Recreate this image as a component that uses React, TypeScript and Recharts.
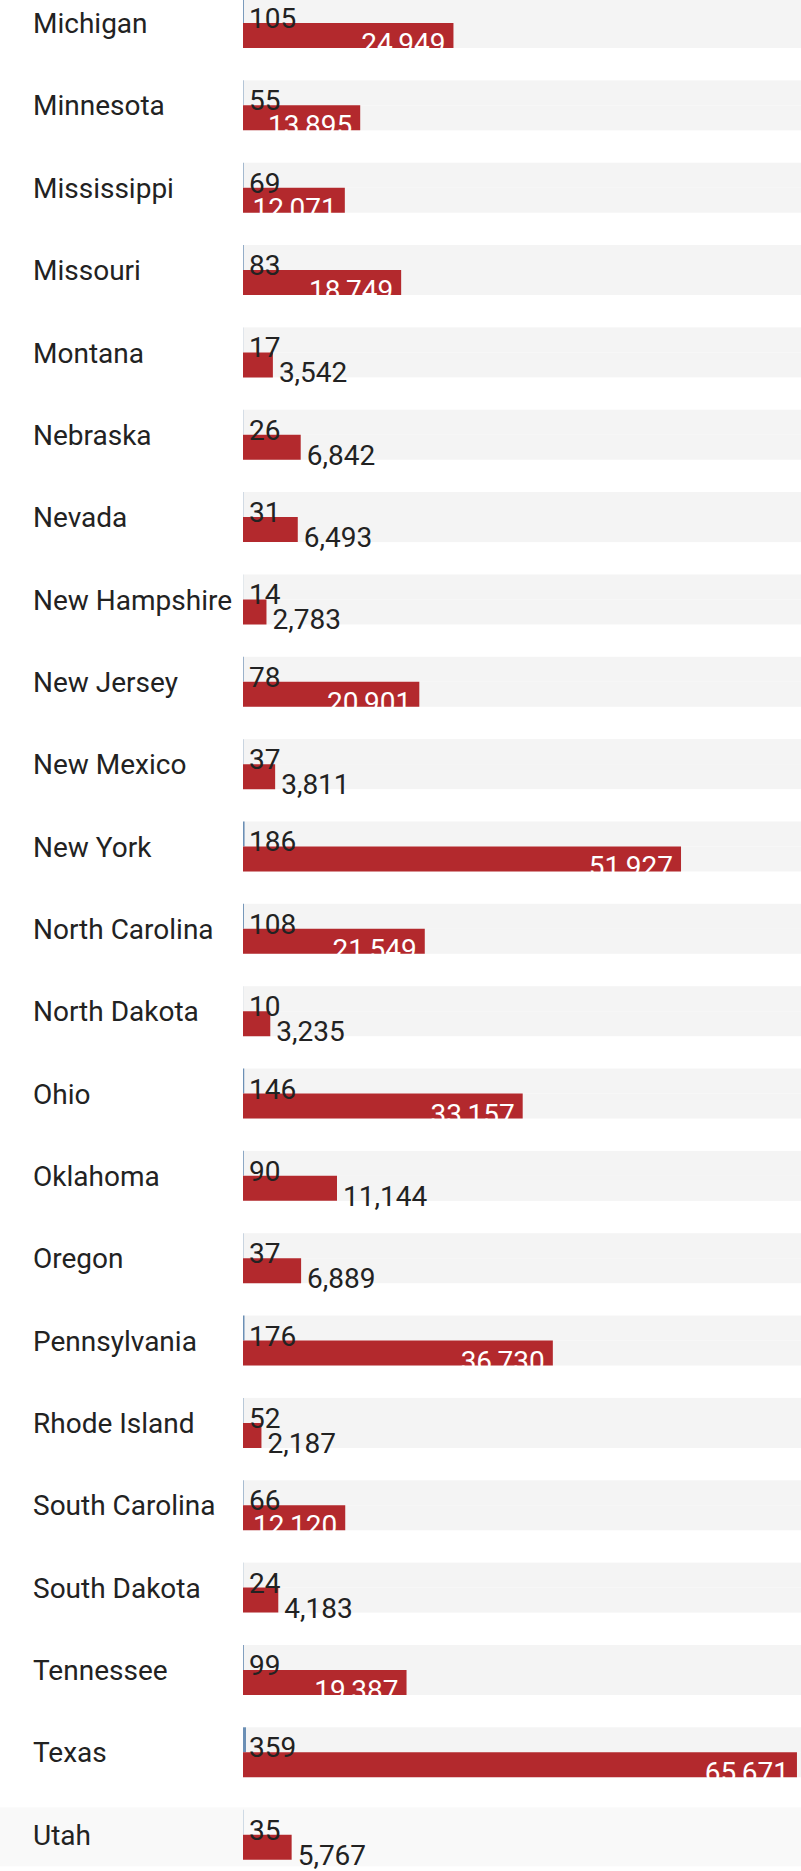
import React from 'react';
import { BarChart, Bar, XAxis, YAxis, LabelList, Tooltip } from 'recharts';

const states = [
  'Michigan', 'Minnesota', 'Mississippi', 'Missouri', 'Montana', 'Nebraska', 'Nevada',
  'New Hampshire', 'New Jersey', 'New Mexico', 'New York', 'North Carolina', 'North Dakota',
  'Ohio', 'Oklahoma', 'Oregon', 'Pennsylvania', 'Rhode Island', 'South Carolina',
  'South Dakota', 'Tennessee', 'Texas', 'Utah',
];

const hospitals = [105, 55, 69, 83, 17, 26, 31, 14, 78, 37, 186, 108, 10, 146, 90, 37, 176, 52, 66, 24, 99, 359, 35];

const beds = [
  24949, 13895, 12071, 18749, 3542, 6842, 6493, 2783, 20901, 3811, 51927, 21549, 3235,
  33157, 11144, 6889, 36730, 2187, 12120, 4183, 19387, 65671, 5767,
];

const hoveredState = 'Utah';

const FONT = 'Roboto, "Noto Sans", sans-serif';
const FONT_SIZE = 28;
const TEXT = '#222222';
const RED = '#b3292d';
const BLUE = '#6b8fb5';

const data = states.map((state, i) => ({ state, hospitals: hospitals[i], beds: beds[i] }));
const hoveredIndex = states.indexOf(hoveredState);

const fmt = (v: number) => v.toLocaleString('en-US');

// rough Roboto text width, enough to decide whether the label fits inside the bar
const textWidth = (s: string) =>
  s.split('').reduce((w, ch) => w + (ch === ',' ? 0.197 : 0.562) * FONT_SIZE, 0);

const box = (props: any) => {
  const vb = props.viewBox ?? props;
  return { x: Number(vb.x), y: Number(vb.y), width: Number(vb.width), height: Number(vb.height) };
};

const StateTick = (props: any) => (
  <text x={33} y={props.y} dy="0.355em" fontSize={FONT_SIZE} fontFamily={FONT} fill={TEXT}>
    {props.payload.value}
  </text>
);

const HospitalLabel = (props: any) => {
  const { x, y } = box(props);
  return (
    <text x={x + 6} y={y + 5} fontSize={FONT_SIZE} fontFamily={FONT} fill={TEXT}>
      {props.value}
    </text>
  );
};

const BedsLabel = (props: any) => {
  const { x, y, width, height } = box(props);
  const label = fmt(Number(props.value));
  const inside = width >= textWidth(label) + 15;
  return (
    <text
      x={inside ? x + width - 8 : x + width + 6}
      y={y + height + 5}
      textAnchor={inside ? 'end' : 'start'}
      fontSize={FONT_SIZE}
      fontFamily={FONT}
      fill={inside ? '#ffffff' : TEXT}
    >
      {label}
    </text>
  );
};

const RowBackground = (props: any) => (
  <rect
    x={props.x}
    y={props.y}
    width={props.width}
    height={props.height}
    fill={props.index === hoveredIndex ? '#efefef' : '#f4f4f4'}
  />
);

const HoverRow = (props: any) => {
  const cy = props.y + props.height / 2;
  return <rect x={0} y={cy - 27.5} width={801} height={59} fill="#f9f9f9" />;
};

export default function App() {
  return (
    <div style={{ position: 'absolute', left: 0, top: -18 }}>
      <style>{'body { margin: 0; overflow: hidden; background: #fff; }'}</style>
      <BarChart
        width={801}
        height={1894}
        data={data}
        layout="vertical"
        margin={{ top: 0, right: 0, bottom: 0, left: 0 }}
        barCategoryGap={16}
        barGap={0}
      >
        <Tooltip
          defaultIndex={hoveredIndex}
          active
          cursor={<HoverRow />}
          content={() => null}
          isAnimationActive={false}
        />
        <XAxis type="number" hide domain={[0, 66150]} />
        <YAxis
          type="category"
          dataKey="state"
          width={243}
          axisLine={false}
          tickLine={false}
          interval={0}
          tick={<StateTick />}
        />
        <Bar dataKey="hospitals" fill={BLUE} background={RowBackground} isAnimationActive={false} />
        <Bar dataKey="beds" fill={RED} background={RowBackground} isAnimationActive={false}>
          <LabelList dataKey="hospitals" content={HospitalLabel} />
          <LabelList dataKey="beds" content={BedsLabel} />
        </Bar>
      </BarChart>
    </div>
  );
}
